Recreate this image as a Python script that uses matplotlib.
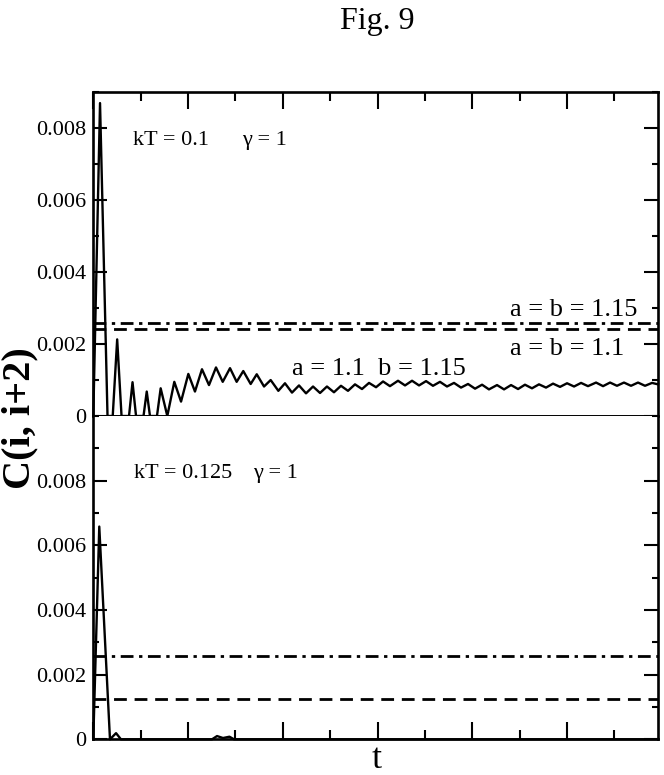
import matplotlib
matplotlib.use("Agg")
import matplotlib.pyplot as plt
from matplotlib.ticker import MultipleLocator, FuncFormatter

plt.rcParams['font.family'] = ['Liberation Serif', 'DejaVu Serif']

# ---- data (t in arbitrary units, 0..596) ----
# kT = 0.1 : (t, C) points
top_curve = [
    (0, 0), (7.1, 0.0087), (15.0, 0), (20.5, 0), (25.2, 0.00213), (29.8, 0),
    (37.7, 0), (41.4, 0.00094), (45.1, 0), (53.0, 0), (56.4, 0.00068), (59.8, 0),
    (67.2, 0), (71.1, 0.00077), (78.1, 0), (85.5, 0.00095), (92.6, 0.0004),
    (100.3, 0.00117), (107.3, 0.00068), (114.7, 0.0013), (122.1, 0.00086),
    (129.5, 0.00135), (136.6, 0.00095), (144.3, 0.00133), (151.3, 0.00095),
    (158.3, 0.00125), (166.1, 0.00089), (172.5, 0.00116), (180.2, 0.00082),
    (187.2, 0.001), (195.3, 0.0007), (202.3, 0.00091), (209.7, 0.00065),
    (217.1, 0.00085), (224.5, 0.00063), (231.9, 0.00082), (239.3, 0.00064),
    (246.6, 0.00082), (254.0, 0.00066), (261.4, 0.00084), (268.8, 0.0007),
    (276.2, 0.00088), (283.6, 0.00075), (291.0, 0.00092), (298.4, 0.0008),
    (305.8, 0.00096), (313.1, 0.00083), (321.6, 0.00098), (329.0, 0.00085),
    (336.4, 0.00098), (343.8, 0.00085), (351.2, 0.00097), (358.5, 0.00084),
    (365.9, 0.00095), (373.3, 0.00082), (380.7, 0.00092), (388.1, 0.00079),
    (395.5, 0.00089), (402.9, 0.00076), (410.3, 0.00087), (417.6, 0.00074),
    (426.1, 0.00086), (433.5, 0.00074), (440.9, 0.00086), (448.3, 0.00075),
    (455.6, 0.00087), (463.0, 0.00077), (470.4, 0.00088), (477.8, 0.00079),
    (485.2, 0.0009), (492.6, 0.00081), (500.0, 0.00091), (507.4, 0.00082),
    (514.8, 0.00092), (522.1, 0.00083), (530.6, 0.00093), (538.0, 0.00083),
    (545.4, 0.00093), (552.7, 0.00084), (560.1, 0.00093), (567.5, 0.00084),
    (574.9, 0.00093), (582.3, 0.00084), (589.7, 0.00092), (596.0, 0.00088),
]
# kT = 0.125
bottom_curve = [
    (0, 0), (6.3, 0.00658), (17.6, 0), (24.0, 0.00019), (29.2, 0),
    (125.3, 0), (130.6, 0.0001), (136.9, 0.00004), (143.7, 0.00008),
    (148.5, 0), (596.0, 0),
]
# reference levels (dash-dot: a = b = 1.15, dashed: a = b = 1.1)
top_levels = [0.00258, 0.00241]
bottom_levels = [0.00258, 0.00124]
ylims = [0.009, 0.010]

W, H = 664, 775
fig = plt.figure(figsize=(W / 100, H / 100), dpi=100)

x0, x1 = 93.3, 658.0
ax_top = fig.add_axes([x0 / W, 1 - 416 / H, (x1 - x0) / W, (416 - 92.3) / H])
ax_bot = fig.add_axes([x0 / W, 1 - 739.3 / H, (x1 - x0) / W, (739.3 - 416) / H])

dashdot = (4.6, 2.0, 1.2, 2.0)
dashed = (4.6, 2.8)


def fmt(v, pos):
    if abs(v) < 1e-12:
        return "0"
    return f"{v:.3f}"


def style(ax, ymax, top_side):
    ax.set_xlim(0, 596)
    ax.set_ylim(0, ymax)
    ax.xaxis.set_major_locator(MultipleLocator(100))
    ax.xaxis.set_minor_locator(MultipleLocator(50))
    ax.yaxis.set_major_locator(MultipleLocator(0.002))
    ax.yaxis.set_minor_locator(MultipleLocator(0.001))
    ax.yaxis.set_major_formatter(FuncFormatter(fmt))
    ax.tick_params(axis='y', which='major', direction='in', length=10,
                   width=1.5, left=True, right=True, labelsize=16, pad=5)
    ax.tick_params(axis='y', which='minor', direction='in', length=4.5,
                   width=1.5, left=True, right=True)
    ax.tick_params(axis='x', which='major', direction='in', length=12.5,
                   width=1.5, top=top_side, bottom=not top_side,
                   labelbottom=False, labeltop=False)
    ax.tick_params(axis='x', which='minor', direction='in', length=6.5,
                   width=1.5, top=top_side, bottom=not top_side)
    for s in ax.spines.values():
        s.set_linewidth(1.9)


style(ax_top, ylims[0], True)
style(ax_bot, ylims[1], False)
ax_top.spines['bottom'].set_linewidth(1.4)
ax_bot.spines['top'].set_visible(False)
ax_bot.set_yticks([0, 0.002, 0.004, 0.006, 0.008])

for ax, curve, levels in [(ax_top, top_curve, top_levels),
                          (ax_bot, bottom_curve, bottom_levels)]:
    ax.axhline(levels[0], color='black', lw=2.0, dashes=dashdot)
    ax.axhline(levels[1], color='black', lw=2.0, dashes=dashed)
    t, c = zip(*curve)
    ax.plot(t, c, color='black', lw=1.7, clip_on=False, zorder=3)


# annotations, positions from the picture
def tx(px):
    return (px - x0) / (x1 - x0)


ax_top.text(tx(133), (416 - 145) / 323.7, "kT = 0.1", fontsize=16,
            transform=ax_top.transAxes, va='baseline')
ax_top.text(tx(242), (416 - 145) / 323.7, "γ = 1", fontsize=16,
            transform=ax_top.transAxes, va='baseline')
ax_top.text(tx(510), (416 - 316) / 323.7, "a = b = 1.15", fontsize=19,
            transform=ax_top.transAxes, va='baseline')
ax_top.text(tx(510), (416 - 355) / 323.7, "a = b = 1.1", fontsize=19,
            transform=ax_top.transAxes, va='baseline')
ax_top.text(tx(292), (416 - 375) / 323.7, "a = 1.1  b = 1.15", fontsize=19,
            transform=ax_top.transAxes, va='baseline')
ax_bot.text(tx(134), (739.3 - 478) / 323.3, "kT = 0.125", fontsize=16,
            transform=ax_bot.transAxes, va='baseline')
ax_bot.text(tx(253), (739.3 - 478) / 323.3, "γ = 1", fontsize=16,
            transform=ax_bot.transAxes, va='baseline')

fig.text(377 / W, 1 - 21 / H, "Fig. 9", fontsize=23, ha='center', va='center')
fig.text(20 / W, 1 - 418 / H, "C(i, i+2)", fontsize=29, fontweight='bold',
         rotation=90, ha='center', va='center')
fig.text(377 / W, 1 - 760 / H, "t", fontsize=26, ha='center', va='center')

fig.savefig("out.png", dpi=100)
